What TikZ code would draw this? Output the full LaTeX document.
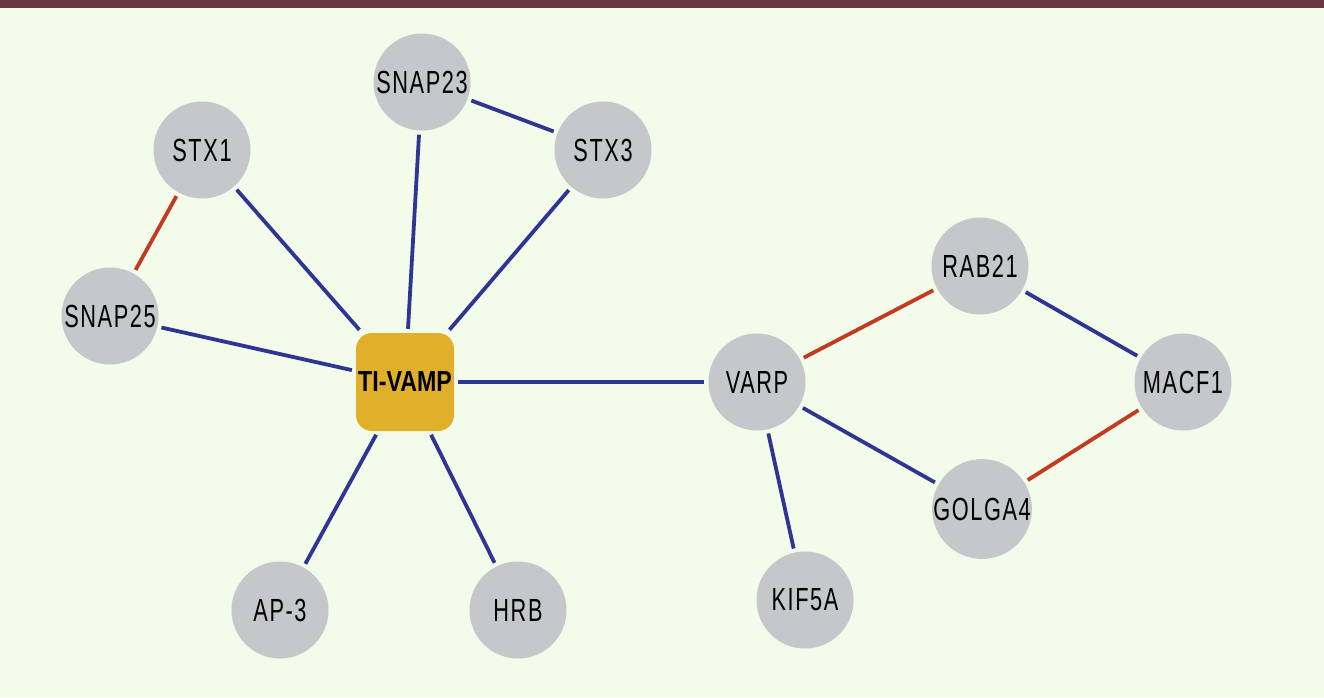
\documentclass[tikz,border=0pt]{standalone}
\usepackage{fontspec}
\setmainfont{Liberation Sans}[FakeStretch=0.8]
\newfontfamily\labelfont{Liberation Sans}[FakeStretch=0.68, LetterSpace=5]
\definecolor{bg}{HTML}{F3FBEB}
\definecolor{bar}{HTML}{6B3540}
\definecolor{nodegray}{HTML}{C6C7CB}
\definecolor{gold}{HTML}{E0B02A}
\definecolor{eblue}{HTML}{2F3592}
\definecolor{ered}{HTML}{C23A20}
\tikzset{
  prot/.style={circle, fill=nodegray, minimum size=97pt, inner sep=0pt, font=\labelfont\fontsize{32}{32}\selectfont},
  hub/.style={rectangle, rounded corners=16pt, fill=gold, minimum size=98pt, inner sep=0pt, font=\fontsize{29}{29}\selectfont\bfseries},
  blueedge/.style={draw=eblue, line width=3.8pt, shorten <=4pt, shorten >=4pt},
  rededge/.style={draw=ered, line width=3.8pt, shorten <=4pt, shorten >=4pt}
}
\begin{document}
\begin{tikzpicture}[x=1pt, y=-1pt]
\fill[bg] (0,0) rectangle (1324,697);
\fill[bar] (0,0) rectangle (1324,8);
\useasboundingbox (0,0) rectangle (1324,697);

\node[hub] (tv) at (405,382) {TI-VAMP};
\node[prot] (snap23) at (422,82) {SNAP23};
\node[prot] (stx1) at (202,150) {STX1};
\node[prot] (stx3) at (603,150) {STX3};
\node[prot] (snap25) at (110,316) {SNAP25};
\node[prot] (varp) at (757,382) {VARP};
\node[prot] (rab21) at (980,266) {RAB21};
\node[prot] (macf1) at (1183,382) {MACF1};
\node[prot] (golga4) at (982,509) {GOLGA4};
\node[prot] (kif5a) at (805,600) {KIF5A};
\node[prot] (ap3) at (280,610) {AP-3};
\node[prot] (hrb) at (518,610) {HRB};

\draw[blueedge] (stx1) -- (tv);
\draw[blueedge] (snap23) -- (tv);
\draw[blueedge] (stx3) -- (tv);
\draw[blueedge] (snap25) -- (tv);
\draw[blueedge] (snap23) -- (stx3);
\draw[blueedge] (tv) -- (varp);
\draw[blueedge] (tv) -- (ap3);
\draw[blueedge] (tv) -- (hrb);
\draw[blueedge] (varp) -- (kif5a);
\draw[blueedge] (varp) -- (golga4);
\draw[blueedge] (rab21) -- (macf1);
\draw[rededge] (stx1) -- (snap25);
\draw[rededge] (varp) -- (rab21);
\draw[rededge] (macf1) -- (golga4);
\end{tikzpicture}
\end{document}
